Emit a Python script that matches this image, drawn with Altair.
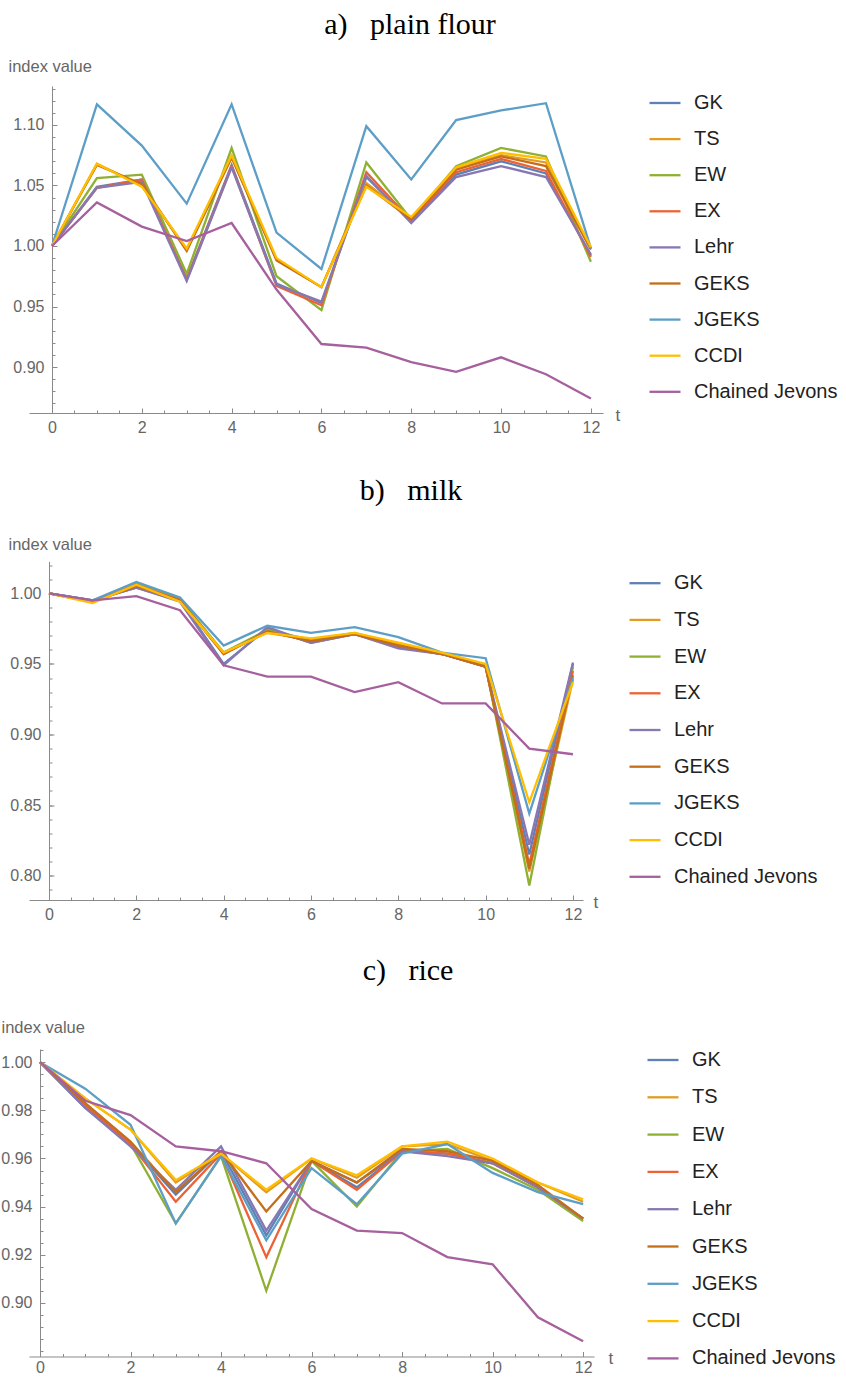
import altair as alt
import numpy as np
import pandas as pd

# Periods and index methods
T = list(range(13))
SERIES = ["GK", "TS", "EW", "EX", "Lehr", "GEKS", "JGEKS", "CCDI", "Chained Jevons"]
COLORS = ["#5E81B5", "#E19C24", "#8FB032", "#EB6235", "#8778B3",
          "#C56E1A", "#5D9EC7", "#FFBF00", "#A5609D"]

# a) plain flour
FLOUR = {
    "GK":             [1.000, 1.049, 1.055, 0.973, 1.067, 0.969, 0.953, 1.057, 1.020, 1.059, 1.070, 1.060, 0.992],
    "TS":             [1.000, 1.068, 1.050, 0.997, 1.074, 0.989, 0.966, 1.052, 1.023, 1.064, 1.075, 1.069, 0.998],
    "EW":             [1.000, 1.056, 1.059, 0.977, 1.081, 0.975, 0.947, 1.069, 1.022, 1.066, 1.081, 1.074, 0.987],
    "EX":             [1.000, 1.048, 1.055, 0.972, 1.066, 0.967, 0.951, 1.061, 1.021, 1.061, 1.072, 1.062, 0.991],
    "Lehr":           [1.000, 1.048, 1.053, 0.971, 1.065, 0.968, 0.954, 1.058, 1.019, 1.057, 1.066, 1.057, 0.993],
    "GEKS":           [1.000, 1.067, 1.051, 0.996, 1.073, 0.988, 0.966, 1.050, 1.022, 1.063, 1.074, 1.066, 0.997],
    "JGEKS":          [1.000, 1.117, 1.083, 1.035, 1.117, 1.011, 0.981, 1.099, 1.055, 1.104, 1.112, 1.118, 0.998],
    "CCDI":           [1.000, 1.068, 1.049, 0.998, 1.075, 0.990, 0.966, 1.049, 1.024, 1.065, 1.077, 1.072, 0.999],
    "Chained Jevons": [1.000, 1.036, 1.016, 1.004, 1.019, 0.964, 0.919, 0.916, 0.904, 0.896, 0.908, 0.894, 0.874],
}

# b) milk
MILK = {
    "GK":             [1.000, 0.995, 1.004, 0.995, 0.950, 0.975, 0.965, 0.971, 0.962, 0.957, 0.948, 0.815, 0.950],
    "TS":             [1.000, 0.994, 1.006, 0.995, 0.958, 0.972, 0.967, 0.971, 0.964, 0.957, 0.948, 0.803, 0.939],
    "EW":             [1.000, 0.994, 1.007, 0.996, 0.958, 0.974, 0.967, 0.972, 0.963, 0.957, 0.949, 0.793, 0.948],
    "EX":             [1.000, 0.994, 1.006, 0.995, 0.957, 0.973, 0.966, 0.971, 0.963, 0.957, 0.948, 0.808, 0.945],
    "Lehr":           [1.000, 0.995, 1.004, 0.994, 0.949, 0.976, 0.965, 0.971, 0.961, 0.957, 0.948, 0.822, 0.951],
    "GEKS":           [1.000, 0.994, 1.005, 0.995, 0.957, 0.973, 0.966, 0.971, 0.963, 0.957, 0.948, 0.805, 0.942],
    "JGEKS":          [1.000, 0.995, 1.008, 0.997, 0.963, 0.977, 0.972, 0.976, 0.969, 0.958, 0.954, 0.844, 0.940],
    "CCDI":           [1.000, 0.993, 1.006, 0.994, 0.958, 0.972, 0.968, 0.972, 0.965, 0.958, 0.950, 0.852, 0.937],
    "Chained Jevons": [1.000, 0.995, 0.998, 0.988, 0.949, 0.941, 0.941, 0.930, 0.937, 0.922, 0.922, 0.890, 0.886],
}

# c) rice
RICE = {
    "GK":             [1.000, 0.981, 0.966, 0.945, 0.963, 0.928, 0.959, 0.948, 0.963, 0.962, 0.958, 0.948, 0.935],
    "TS":             [1.000, 0.985, 0.972, 0.950, 0.962, 0.946, 0.960, 0.952, 0.965, 0.966, 0.959, 0.950, 0.942],
    "EW":             [1.000, 0.982, 0.966, 0.933, 0.961, 0.905, 0.959, 0.940, 0.963, 0.964, 0.956, 0.947, 0.934],
    "EX":             [1.000, 0.982, 0.966, 0.942, 0.962, 0.919, 0.959, 0.947, 0.963, 0.962, 0.958, 0.948, 0.935],
    "Lehr":           [1.000, 0.981, 0.965, 0.947, 0.965, 0.930, 0.959, 0.950, 0.963, 0.961, 0.958, 0.948, 0.935],
    "GEKS":           [1.000, 0.983, 0.967, 0.946, 0.963, 0.938, 0.959, 0.950, 0.964, 0.963, 0.959, 0.949, 0.935],
    "JGEKS":          [1.000, 0.989, 0.974, 0.933, 0.961, 0.926, 0.956, 0.941, 0.962, 0.966, 0.954, 0.946, 0.941],
    "CCDI":           [1.000, 0.985, 0.972, 0.951, 0.962, 0.947, 0.960, 0.953, 0.965, 0.967, 0.960, 0.950, 0.943],
    "Chained Jevons": [1.000, 0.984, 0.978, 0.965, 0.963, 0.958, 0.939, 0.930, 0.929, 0.919, 0.916, 0.894, 0.884],
}

AXIS_GRAY = "#8a8a8a"
LABEL_GRAY = "#666666"
X_MAJOR = [0, 2, 4, 6, 8, 10, 12]
X_MINOR = [round(v, 2) for v in np.arange(0, 12.01, 0.5)]


def steps(lo, hi, step):
    return [round(v, 4) for v in np.arange(lo, hi + step / 2, step)]


def long_frame(values):
    rows = []
    for name in SERIES:
        for t, v in zip(T, values[name]):
            rows.append({"t": t, "value": v, "index": name})
    return pd.DataFrame(rows)


def panel(title, values, p):
    df = long_frame(values)
    xs = alt.Scale(domain=[p["xmin"], p["xmax"]], nice=False, zero=False)
    ys = alt.Scale(domain=p["ydomain"], nice=False, zero=False)
    base = alt.Chart(df)

    lines = base.mark_line(strokeWidth=2.3).encode(
        x=alt.X("t:Q", scale=xs, axis=alt.Axis(
            orient="bottom", values=X_MAJOR, format="d", ticks=False,
            labelPadding=p["xpad"], domainColor=AXIS_GRAY, domainWidth=1,
            title="t", titleAngle=0, titleAlign="left", titleBaseline="middle",
            titleX=p["tx"], titleY=2, titleFontSize=17, titleFontWeight="normal",
            titleColor=LABEL_GRAY, titleFont="Liberation Sans")),
        y=alt.Y("value:Q", scale=ys, axis=alt.Axis(
            orient="left", values=p["ymajor"], format=".2f", ticks=False,
            labelPadding=8, offset=p["yoff"], domainColor=AXIS_GRAY, domainWidth=1,
            title="index value", titleAngle=0, titleAlign="left",
            titleBaseline="alphabetic", titleX=p["itx"], titleY=p["ity"],
            titleFontSize=16.5, titleFontWeight="normal", titleColor=LABEL_GRAY,
            titleFont="Liberation Sans")),
        color=alt.Color("index:N", sort=SERIES,
                        scale=alt.Scale(domain=SERIES, range=COLORS),
                        legend=alt.Legend(
                            orient="none", legendX=p["lx"], legendY=p["ly"],
                            title=None, symbolType="stroke", symbolSize=961,
                            symbolStrokeWidth=2.3, labelFontSize=20,
                            labelFont="Liberation Sans", labelColor="#222222",
                            rowPadding=p["rowpad"], labelOffset=12, padding=0,
                            labelLimit=300)),
    )

    major = base.mark_line(strokeOpacity=0).encode(
        x=alt.X("t:Q", scale=xs, axis=alt.Axis(
            orient="bottom", values=X_MAJOR, offset=-5, tickSize=5,
            tickColor=AXIS_GRAY, labels=False, domain=False, title=None)),
        y=alt.Y("value:Q", scale=ys, axis=alt.Axis(
            orient="left", values=p["ymajor"], offset=p["yoff"] - 5, tickSize=5,
            tickColor=AXIS_GRAY, labels=False, domain=False, title=None)),
        detail="index:N",
    )

    minor = base.mark_line(strokeOpacity=0).encode(
        x=alt.X("t:Q", scale=xs, axis=alt.Axis(
            orient="bottom", values=X_MINOR, offset=-3, tickSize=3,
            tickColor=AXIS_GRAY, labels=False, domain=False, title=None)),
        y=alt.Y("value:Q", scale=ys, axis=alt.Axis(
            orient="left", values=p["yminor"], offset=p["yoff"] - 3, tickSize=3,
            tickColor=AXIS_GRAY, labels=False, domain=False, title=None)),
        detail="index:N",
    )

    return alt.layer(lines, major, minor).resolve_axis(
        x="independent", y="independent"
    ).properties(
        width=p["w"], height=p["h"],
        title=alt.Title(title, font="Liberation Serif", fontSize=30,
                        fontWeight="normal", color="black", anchor="middle",
                        frame="group", dx=p["dx"], offset=p["toff"]),
    )


flour = panel("a)\u00a0\u00a0\u00a0plain flour", FLOUR, dict(
    xmin=-0.512, xmax=12.27, w=574, h=327, ydomain=[0.862, 1.1322],
    ymajor=[0.90, 0.95, 1.00, 1.05, 1.10], yminor=steps(0.87, 1.13, 0.01),
    yoff=-23, xpad=6, tx=586, itx=-44, ity=-15,
    lx=619, ly=0, rowpad=9.1, dx=94, toff=18))

milk = panel("b)\u00a0\u00a0\u00a0milk", MILK, dict(
    xmin=-0.458, xmax=12.23, w=554, h=338.5, ydomain=[0.7828, 1.0225],
    ymajor=[0.80, 0.85, 0.90, 0.95, 1.00], yminor=steps(0.79, 1.02, 0.01),
    yoff=-20, xpad=6, tx=564, itx=-41, ity=-12.5,
    lx=599, ly=4.7, rowpad=9.7, dx=105, toff=30))

rice = panel("c)\u00a0\u00a0\u00a0rice", RICE, dict(
    xmin=-0.243, xmax=12.24, w=565, h=307.5, ydomain=[0.8777, 1.0055],
    ymajor=[0.90, 0.92, 0.94, 0.96, 0.98, 1.00], yminor=steps(0.88, 1.005, 0.005),
    yoff=-11, xpad=3, tx=579, itx=-39, ity=-16.8,
    lx=617, ly=-6, rowpad=10.3, dx=96.5, toff=33))

chart = alt.vconcat(flour, milk, rice, spacing=148.5, bounds="flush").resolve_scale(
    color="independent"
).resolve_legend(
    color="independent"
).configure_view(
    stroke=None
).configure_axis(
    labelFont="Liberation Sans", labelFontSize=16, labelColor=LABEL_GRAY, grid=False
).properties(
    padding={"left": 0, "top": 10, "right": 0, "bottom": 0}
)

chart.save("out.html", embed_options={"renderer": "svg", "actions": False})
